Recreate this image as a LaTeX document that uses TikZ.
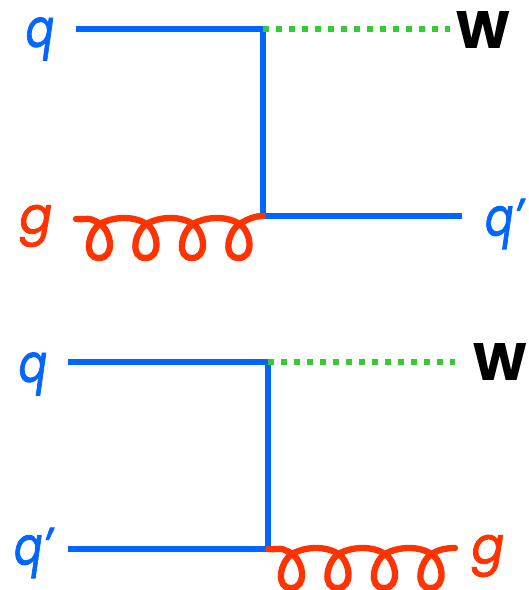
\documentclass[tikz,border=0pt]{standalone}
\usepackage{fontspec}
\setmainfont[ItalicFeatures={FakeBold=1.6}]{Poppins}
\tikzset{
  quark/.style={line width=3.4pt,draw=qblue},
  wboson/.style={line width=3.4pt,draw=wgreen,dash pattern=on 3.4pt off 4pt},
  gluon/.style={line width=3.6pt,draw=gred,line cap=round,to path={(\tikztostart)
    .. controls +(12,1) and +(-12,-8) .. ++(24,5)
    .. controls +(12,8) and +(16,0) .. ++(-1,34) .. controls +(-16,0) and +(-12,8) .. ++(1,-34)
    .. controls +(14,-8) and +(-12,-8) .. ++(46.5,0)
    .. controls +(12,8) and +(16,0) .. ++(-1,34) .. controls +(-16,0) and +(-12,8) .. ++(1,-34)
    .. controls +(14,-8) and +(-12,-8) .. ++(46.5,0)
    .. controls +(12,8) and +(16,0) .. ++(-1,34) .. controls +(-16,0) and +(-12,8) .. ++(1,-34)
    .. controls +(14,-8) and +(-12,-8) .. ++(46.5,0)
    .. controls +(12,8) and +(16,0) .. ++(-1,34) .. controls +(-16,0) and +(-12,8) .. ++(1,-34)
    .. controls +(8,-5) and +(-8,0) .. (\tikztotarget)}},
  qlabel/.style={text=qblue,font=\fontsize{30}{30}\selectfont\itshape,inner sep=0pt,xscale=0.8,transform shape},
  glabel/.style={text=gred,font=\fontsize{29}{29}\selectfont\itshape,inner sep=0pt,xscale=0.95,transform shape},
  wlabel/.style={text=black,font=\fontsize{30}{30}\selectfont\bfseries,inner sep=0pt}
}
\definecolor{qblue}{HTML}{0066FF}
\definecolor{gred}{HTML}{FF3300}
\definecolor{wgreen}{HTML}{33CC33}
\begin{document}
\begin{tikzpicture}[x=0.02cm,y=-0.02cm]
  \useasboundingbox (0,0) rectangle (528,590);
  % upper graph
  \coordinate (q1) at (76,29); \coordinate (A1) at (263,29); \coordinate (W1) at (450,29);
  \coordinate (g1) at (76,219); \coordinate (B1) at (263,216); \coordinate (p1) at (462,216);
  \draw[quark] (q1)--(A1); \draw[quark] (A1)--(B1); \draw[quark] (B1)--(p1);
  \draw[wboson] (A1)--(W1);
  \draw[gluon] (g1) to (B1);
  \node[qlabel] (qa) at (40,39) {q}; \node[wlabel] (wa) at (483,30) {W};
  \node[glabel] (ga) at (36,226) {g}; \node[qlabel] (pa) at (504,224) {q'};
  % lower graph
  \coordinate (q2) at (68,362); \coordinate (A2) at (268,362); \coordinate (W2) at (455,362);
  \coordinate (p2) at (68,549); \coordinate (B2) at (268,549); \coordinate (g2) at (455,548);
  \draw[quark] (q2)--(A2); \draw[quark] (A2)--(B2); \draw[quark] (p2)--(B2);
  \draw[wboson] (A2)--(W2);
  \draw[gluon] (B2) to (g2);
  \node[qlabel] (qb) at (33,374) {q}; \node[wlabel] (wb) at (500,362) {W};
  \node[qlabel] (pb) at (33,553) {q'}; \node[glabel] (gb) at (488,556) {g};
\end{tikzpicture}
\end{document}
